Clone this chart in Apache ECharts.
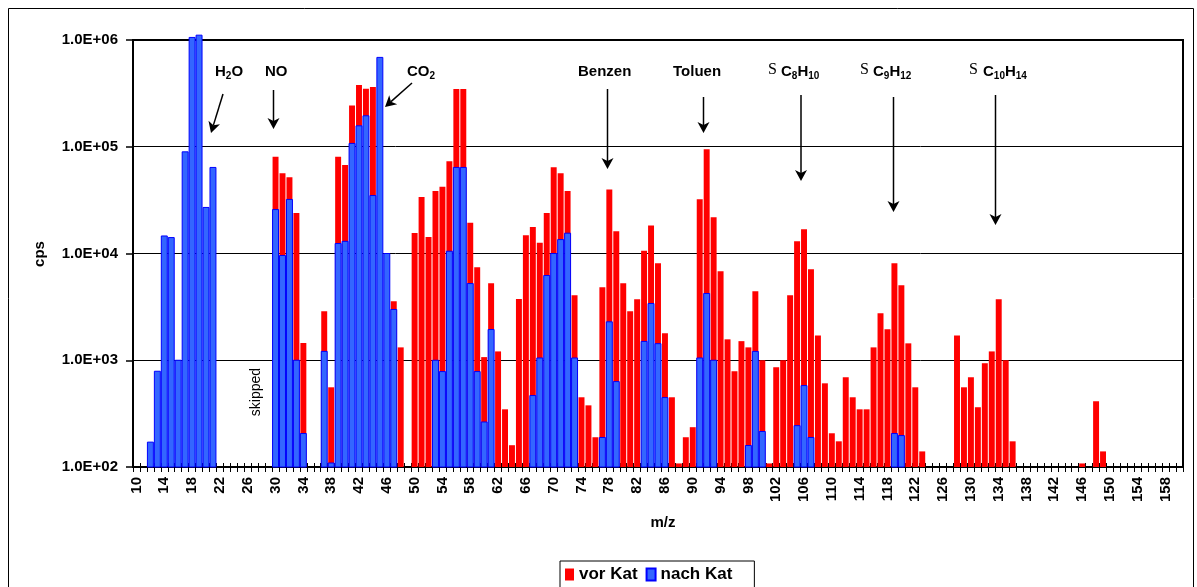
<!DOCTYPE html>
<html>
<head>
<meta charset="utf-8">
<script src="https://cdn.jsdelivr.net/npm/echarts@6/dist/echarts.min.js"></script>
<style>
  html, body { margin: 0; padding: 0; background: #fff; }
  #chart { width: 1197px; height: 587px; }
</style>
</head>
<body>
<div id="chart"></div>
<script>
// Mass spectrum, count rate per m/z before and after the catalyst
const MZ_FIRST = 10;
const MZ_LAST = 160;
const Y_MIN = 100;
const Y_MAX = 1e6;

// [m/z, cps] before the catalyst
const vorKat = [
  [30, 80400], [31, 56600], [32, 51900], [33, 23900], [34, 1450],
  [37, 2880], [38, 558], [39, 80400], [40, 67300], [41, 243800], [42, 378000], [43, 349000], [44, 362000],
  [47, 3570], [48, 1320],
  [50, 15600], [51, 33900], [52, 14300], [53, 38400], [54, 42100], [55, 73300], [56, 347000], [57, 347000],
  [58, 19400], [59, 7440], [60, 1070], [61, 5270], [62, 1210], [63, 347], [64, 160], [65, 3750],
  [66, 14800], [67, 17700], [68, 12600], [69, 23900], [70, 64400], [71, 56600], [72, 38400], [73, 4070],
  [74, 450], [75, 378], [76, 190], [77, 4830], [78, 39800], [79, 16200], [80, 5270], [81, 2880],
  [82, 3730], [83, 10600], [84, 18300], [85, 8110], [86, 1790], [87, 450], [88, 108], [89, 190],
  [90, 236], [91, 32300], [92, 95000], [93, 21900], [94, 6820], [95, 1570], [96, 789], [97, 1510],
  [98, 1320], [99, 4430], [100, 1000], [101, 108], [102, 860], [103, 1000], [104, 4070], [105, 13000],
  [106, 16900], [107, 7130], [108, 1710], [109, 608], [110, 207], [111, 174], [112, 693], [113, 450],
  [114, 347], [115, 347], [116, 1320], [117, 2760], [118, 1950], [119, 8110], [120, 5050], [121, 1440],
  [122, 558], [123, 140],
  [128, 1710], [129, 558], [130, 693], [131, 363], [132, 938], [133, 1210], [134, 3730], [135, 1000], [136, 174],
  [146, 108], [148, 413], [149, 140]
];

// [m/z, cps] after the catalyst
const nachKat = [
  [12, 171], [13, 789], [14, 14600], [15, 14100], [16, 1000], [17, 89600], [18, 1057000], [19, 1110000],
  [20, 27000], [21, 64000],
  [30, 25800], [31, 9580], [32, 32100], [33, 1000], [34, 206],
  [37, 1210], [38, 109], [39, 12400], [40, 13000], [41, 107400], [42, 157000], [43, 195000], [44, 34900],
  [45, 687000], [46, 10000], [47, 2990],
  [53, 1000], [54, 783], [55, 10500], [56, 64000], [57, 64000], [58, 5230], [59, 783], [60, 264], [61, 1940],
  [67, 467], [68, 1050], [69, 6220], [70, 10000], [71, 13500], [72, 15500], [73, 1050],
  [77, 189], [78, 2290], [79, 631],
  [83, 1500], [84, 3400], [85, 1430], [86, 447],
  [91, 1050], [92, 4220], [93, 1000],
  [98, 159], [99, 1210], [100, 215],
  [105, 244], [106, 579], [107, 189],
  [119, 206], [120, 197]
];

// annotated peaks: label parts ([text, subscript]), optional sigma, text anchor, arrow start/end
const peakNotes = [
  { parts: [['H', 0], ['2', 1], ['O', 0]], x: 215, y: 72, from: [223, 94], to: [211, 133] },
  { parts: [['NO', 0]], x: 265, y: 72, from: [273.5, 90], to: [273.5, 129] },
  { parts: [['CO', 0], ['2', 1]], x: 407, y: 72, from: [412, 83], to: [385, 107] },
  { parts: [['Benzen', 0]], x: 578, y: 72, from: [607.5, 89], to: [607.5, 169] },
  { parts: [['Toluen', 0]], x: 673, y: 72, from: [703.5, 97], to: [703.5, 133] },
  { sigma: 768, parts: [['C', 0], ['8', 1], ['H', 0], ['10', 1]], x: 781, y: 72, from: [801, 95], to: [801, 181] },
  { sigma: 860, parts: [['C', 0], ['9', 1], ['H', 0], ['12', 1]], x: 873, y: 72, from: [893.5, 97], to: [893.5, 212] },
  { sigma: 969, parts: [['C', 0], ['10', 1], ['H', 0], ['14', 1]], x: 983, y: 72, from: [995.5, 95], to: [995.5, 225] }
];

const FONT = 'Arial, "Liberation Sans", sans-serif';
const SERIF = '"Times New Roman", "Liberation Serif", serif';

const mzCategories = [];
for (let m = MZ_FIRST; m <= MZ_LAST; m++) mzCategories.push(String(m));

const toSeriesData = (pairs) => pairs.map(([mz, cps]) => [String(mz), cps]);

const measureCtx = document.createElement('canvas').getContext('2d');
function textWidth(text, font) {
  measureCtx.font = font;
  return measureCtx.measureText(text).width;
}

function barRenderer(fill, stroke, lineWidth) {
  return function (params, api) {
    const idx = api.value(0);
    const v = api.value(1);
    if (!(v > 0)) return null;
    const top = api.coord([idx, v]);
    const base = api.coord([idx, Y_MIN]);
    const band = api.size([1, Y_MIN])[0];
    const w = band - 1;
    return {
      type: 'rect',
      shape: { x: top[0] - w / 2, y: top[1], width: w, height: base[1] - top[1] },
      style: { fill: fill, stroke: stroke, lineWidth: lineWidth }
    };
  };
}

function textEl(x, y, text, font, opts) {
  return Object.assign({
    type: 'text', x: x, y: y, z: 20,
    style: Object.assign({
      text: text, font: font, fill: '#000',
      align: 'left', textAlign: 'left', verticalAlign: 'middle', textVerticalAlign: 'middle'
    }, (opts && opts.style) || {})
  }, (opts && opts.el) || {});
}

function formulaEls(x, y, parts) {
  const els = [];
  let cx = x;
  parts.forEach(([t, sub]) => {
    const font = sub ? `bold 10px ${FONT}` : `bold 15px ${FONT}`;
    els.push(textEl(cx, y + (sub ? 4 : 0), t, font));
    cx += textWidth(t, font);
  });
  return els;
}

function arrowEls(from, to) {
  const ang = Math.atan2(to[1] - from[1], to[0] - from[0]);
  const L = 11, W = 6, notch = 3;
  const ux = Math.cos(ang), uy = Math.sin(ang);
  const nx = -uy, ny = ux;
  const bx = to[0] - L * ux, by = to[1] - L * uy;
  const mx = to[0] - (L - notch) * ux, my = to[1] - (L - notch) * uy;
  return [
    { type: 'line', z: 20, shape: { x1: from[0], y1: from[1], x2: mx, y2: my },
      style: { stroke: '#000', lineWidth: 1.5 } },
    { type: 'polygon', z: 20, shape: { points: [to, [bx + W * nx, by + W * ny], [mx, my], [bx - W * nx, by - W * ny]] },
      style: { fill: '#000' } }
  ];
}

const graphics = [];
// outer chart frame
graphics.push({ type: 'rect', z: 0, shape: { x: 8.5, y: 8.5, width: 1185, height: 600 },
  style: { fill: 'none', stroke: '#000', lineWidth: 1 } });
peakNotes.forEach(n => {
  if (n.sigma != null) graphics.push(textEl(n.sigma, n.y - 2, 'S', `16px ${SERIF}`));
  graphics.push(...formulaEls(n.x, n.y, n.parts));
  graphics.push(...arrowEls(n.from, n.to));
});
graphics.push(textEl(256, 392, 'skipped', `14px ${FONT}`,
  { el: { rotation: Math.PI / 2 }, style: { align: 'center', textAlign: 'center' } }));
graphics.push(textEl(40, 254, 'cps', `bold 15px ${FONT}`,
  { el: { rotation: Math.PI / 2 }, style: { align: 'center', textAlign: 'center' } }));
graphics.push(textEl(663, 523, 'm/z', `bold 15px ${FONT}`,
  { style: { align: 'center', textAlign: 'center' } }));

const chart = echarts.init(document.getElementById('chart'), null, { renderer: 'canvas' });

chart.setOption({
  animation: false,
  backgroundColor: '#fff',
  grid: { left: 133, right: 14, top: 40, bottom: 120, show: true, borderColor: '#000', borderWidth: 2, containLabel: false },
  legend: {
    left: 560, top: 561,
    padding: [5, 22, 8, 5],
    borderColor: '#000', borderWidth: 1, borderRadius: 0,
    backgroundColor: '#fff',
    itemWidth: 9, itemHeight: 12, itemGap: 8,
    icon: 'rect',
    textStyle: { color: '#000', fontWeight: 'bold', fontSize: 17, fontFamily: FONT },
    data: ['vor Kat', 'nach Kat']
  },
  xAxis: [
    {
      type: 'category', data: mzCategories, boundaryGap: true,
      axisLine: { lineStyle: { color: '#000', width: 2 } },
      axisTick: { show: true, interval: 0, length: 5, lineStyle: { color: '#000', width: 1 } },
      axisLabel: { interval: 3, rotate: 90, color: '#000', fontWeight: 'bold', fontSize: 15, fontFamily: FONT, margin: 10 },
      splitLine: { show: false }
    },
    {
      type: 'category', data: mzCategories, boundaryGap: true, position: 'bottom',
      axisLine: { show: false }, axisLabel: { show: false }, splitLine: { show: false },
      axisTick: { show: true, inside: true, interval: 0, length: 4, lineStyle: { color: '#000', width: 1 } }
    }
  ],
  yAxis: {
    type: 'log', logBase: 10, min: Y_MIN, max: Y_MAX,
    axisLine: { show: true, lineStyle: { color: '#000', width: 2 } },
    axisTick: { show: true, length: 7, lineStyle: { color: '#000', width: 1.5 } },
    axisLabel: {
      color: '#000', fontWeight: 'bold', fontSize: 15, fontFamily: FONT, margin: 15,
      formatter: (v) => '1.0E+' + String(Math.round(Math.log10(v))).padStart(2, '0')
    },
    splitLine: { show: true, lineStyle: { color: '#000', width: 1 } }
  },
  graphic: graphics,
  series: [
    {
      name: 'vor Kat', type: 'custom', xAxisIndex: 0, yAxisIndex: 0,
      encode: { x: 0, y: 1 },
      itemStyle: { color: '#FF0000' },
      renderItem: barRenderer('#FF0000', null, 0),
      data: toSeriesData(vorKat), z: 2
    },
    {
      name: 'nach Kat', type: 'custom', xAxisIndex: 0, yAxisIndex: 0,
      encode: { x: 0, y: 1 },
      itemStyle: { color: '#3366FF', borderColor: '#0000FF', borderWidth: 1 },
      renderItem: barRenderer('#3366FF', '#0000FF', 1),
      data: toSeriesData(nachKat), z: 3
    }
  ]
});
</script>
</body>
</html>
